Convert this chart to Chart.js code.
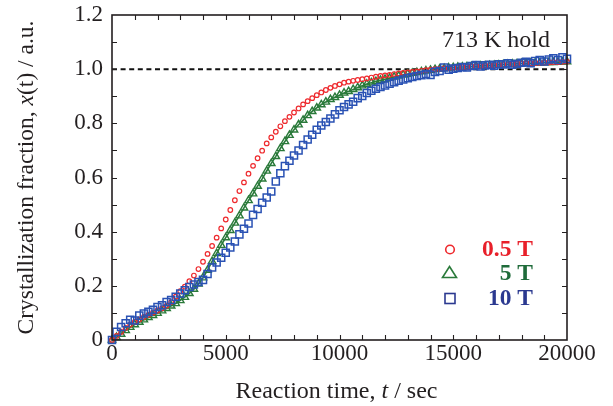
<!DOCTYPE html>
<html><head><meta charset="utf-8">
<script src="https://cdn.jsdelivr.net/npm/chart.js@4.4.1/dist/chart.umd.min.js"></script>
<style>html,body{margin:0;padding:0;background:#fff}</style>
</head><body>
<canvas id="c" width="613" height="406"></canvas>
<script>
// ---- data ----
const times = [0,200,400,600,800,1000,1200,1400,1600,1800,2000,2200,2400,2600,2800,
3000,3200,3400,3600,3800,4000,4200,4400,4600,4800,5000,5200,5400,5600,5800,
6000,6200,6400,6600,6800,7000,7200,7400,7600,7800,8000,8200,8400,8600,8800,
9000,9200,9400,9600,9800,10000,10200,10400,10600,10800,11000,11200,11400,11600,11800,
12000,12200,12400,12600,12800,13000,13200,13400,13600,13800,14000,14200,14400,14600,14800,
15000,15200,15400,15600,15800,16000,16200,16400,16600,16800,17000,17200,17400,17600,17800,
18000,18200,18400,18600,18800,19000,19200,19400,19600,19800,20000];

const field05T = [0.000,0.015,0.030,0.045,0.057,0.067,0.076,0.085,0.093,0.101,0.109,0.117,0.127,0.140,0.160,
0.180,0.197,0.217,0.238,0.262,0.289,0.318,0.347,0.378,0.412,0.445,0.480,0.516,0.550,0.582,
0.614,0.643,0.671,0.699,0.726,0.748,0.769,0.789,0.808,0.824,0.840,0.855,0.870,0.882,0.893,
0.904,0.914,0.923,0.931,0.938,0.944,0.950,0.954,0.957,0.960,0.963,0.966,0.969,0.972,0.975,
0.977,0.979,0.982,0.984,0.986,0.988,0.990,0.992,0.994,0.996,0.998,1.000,1.001,1.003,1.004,
1.005,1.006,1.007,1.008,1.009,1.010,1.011,1.012,1.013,1.014,1.015,1.016,1.017,1.018,1.019,
1.020,1.021,1.022,1.022,1.023,1.024,1.025,1.026,1.026,1.027,1.028];

const field5T = [0.000,0.010,0.022,0.035,0.047,0.057,0.066,0.075,0.083,0.091,0.099,0.108,0.117,0.126,0.135,
0.146,0.158,0.172,0.188,0.207,0.230,0.258,0.290,0.320,0.350,0.378,0.405,0.432,0.459,0.488,
0.515,0.540,0.568,0.595,0.624,0.652,0.678,0.707,0.733,0.756,0.776,0.795,0.812,0.829,0.844,
0.857,0.869,0.879,0.888,0.896,0.904,0.912,0.918,0.925,0.932,0.939,0.945,0.950,0.955,0.959,
0.963,0.967,0.971,0.975,0.979,0.982,0.985,0.988,0.991,0.994,0.996,0.999,1.001,1.003,1.005,
1.006,1.007,1.008,1.009,1.010,1.011,1.012,1.013,1.014,1.015,1.016,1.017,1.018,1.019,1.020,
1.021,1.021,1.022,1.023,1.023,1.024,1.025,1.025,1.026,1.027,1.028];

const field10T = [0.000,0.030,0.048,0.062,0.075,0.072,0.090,0.098,0.104,0.112,0.122,0.128,0.140,0.148,0.160,
0.172,0.184,0.196,0.205,0.214,0.222,0.244,0.268,0.286,0.304,0.322,0.342,0.364,0.390,0.411,
0.430,0.462,0.484,0.507,0.526,0.548,0.585,0.616,0.642,0.662,0.681,0.700,0.720,0.740,0.758,
0.776,0.792,0.805,0.818,0.833,0.848,0.860,0.870,0.880,0.893,0.901,0.912,0.920,0.928,0.934,
0.940,0.946,0.952,0.957,0.962,0.967,0.971,0.975,0.978,0.982,0.979,0.990,0.993,1.006,0.998,
1.002,1.004,1.008,1.006,1.012,1.015,1.010,1.014,1.016,1.013,1.018,1.017,1.022,1.016,1.020,
1.024,1.027,1.022,1.030,1.034,1.028,1.036,1.040,1.034,1.044,1.038];

const seriesLabels = ['0.5 T', '5 T', '10 T'];
const xTicks = [0, 5000, 10000, 15000, 20000];
const yTicks = [0, 0.2, 0.4, 0.6, 0.8, 1.0, 1.2];
const refLine = 1.0;
const noteText = '713 K hold';

// ---- styles ----
const RED = '#ee2a2e', GREEN = '#2a7a3a', BLUE = '#2a52b4';
const RED_T = '#e8202a', GREEN_T = '#1f6b3a', BLUE_T = '#2b3990';
const INK = '#231f20';
const SERIF = '"Liberation Serif","Times New Roman",serif';
Chart.defaults.font.family = SERIF;
Chart.defaults.color = INK;

function pts(vals){ return times.map((t,i)=>({x:t, y:vals[i]})); }

function drawMixed(ctx, parts, x, y, size){
  let w = 0;
  parts.forEach(p=>{ ctx.font = (p[1]?'italic ':'') + size + 'px ' + SERIF; p.w = ctx.measureText(p[0]).width; w += p.w; });
  let cx = x - w/2;
  ctx.textAlign = 'left';
  parts.forEach(p=>{ ctx.font = (p[1]?'italic ':'') + size + 'px ' + SERIF; ctx.fillText(p[0], cx, y); cx += p.w; });
}

const decor = {
  id: 'decor',
  beforeDatasetsDraw(chart){
    const {ctx, chartArea:a, scales:{y}} = chart;
    const yy = y.getPixelForValue(refLine);
    ctx.save();
    ctx.strokeStyle = '#111'; ctx.lineWidth = 2; ctx.setLineDash([5,3.6]);
    ctx.beginPath(); ctx.moveTo(a.left, yy); ctx.lineTo(a.right, yy); ctx.stroke();
    ctx.restore();
  },
  afterDatasetsDraw(chart){
    const {ctx, chartArea:a, scales:{x, y}} = chart;
    ctx.save();
    ctx.strokeStyle = INK; ctx.lineWidth = 1.6; ctx.setLineDash([]);
    ctx.strokeRect(a.left, a.top, a.right - a.left, a.bottom - a.top);
    ctx.lineWidth = 1.1;
    ctx.beginPath();
    for (let v = 1000; v < 20000; v += 1000){
      const px = Math.round(x.getPixelForValue(v)) + 0.5;
      ctx.moveTo(px, a.bottom); ctx.lineTo(px, a.bottom - 5);
      ctx.moveTo(px, a.top); ctx.lineTo(px, a.top + 5);
    }
    for (let k = 1; k < 12; k++){
      const py = Math.round(y.getPixelForValue(k/10)) + 0.5;
      ctx.moveTo(a.left, py); ctx.lineTo(a.left + 5, py);
      ctx.moveTo(a.right, py); ctx.lineTo(a.right - 5, py);
    }
    ctx.stroke();

    // axis titles
    ctx.fillStyle = INK; ctx.textBaseline = 'alphabetic';
    drawMixed(ctx, [['Reaction time, ',0],['t',1],[' / sec',0]], (a.left + a.right)/2 - 3, 398, 24);
    ctx.save();
    ctx.translate(33, (a.top + a.bottom)/2);
    ctx.rotate(-Math.PI/2);
    drawMixed(ctx, [['Crystallization fraction, ',0],['x',1],['(t) / a.u.',0]], 0, 0, 23.5);
    ctx.restore();

    // annotation
    ctx.font = '24px ' + SERIF; ctx.textAlign = 'right';
    ctx.fillText(noteText, 550, 47);

    // legend
    ctx.lineWidth = 1.6;
    ctx.strokeStyle = RED; ctx.beginPath(); ctx.arc(450, 249.5, 4.3, 0, Math.PI*2); ctx.stroke();
    ctx.strokeStyle = GREEN; ctx.beginPath(); ctx.moveTo(449.5, 266.5); ctx.lineTo(456.5, 277.5); ctx.lineTo(442.5, 277.5); ctx.closePath(); ctx.stroke();
    ctx.strokeStyle = BLUE_T; ctx.strokeRect(445, 293.5, 10, 10);
    ctx.font = 'bold 23.5px ' + SERIF; ctx.textAlign = 'right';
    ctx.fillStyle = RED_T; ctx.fillText(seriesLabels[0], 533, 256);
    ctx.fillStyle = GREEN_T; ctx.fillText(seriesLabels[1], 533, 280);
    ctx.fillStyle = BLUE_T; ctx.fillText(seriesLabels[2], 533, 304.5);
    ctx.restore();
  }
};

new Chart(document.getElementById('c'), {
  type: 'scatter',
  data: { datasets: [
    { label: seriesLabels[2], data: pts(field10T), order: 1,
      pointStyle: 'rect', pointRadius: 5, pointBorderWidth: 1.5,
      pointBorderColor: BLUE, pointBackgroundColor: 'rgba(0,0,0,0)', showLine: false },
    { label: seriesLabels[0], data: pts(field05T), order: 2,
      pointStyle: 'circle', pointRadius: 2.3, pointBorderWidth: 1.2,
      pointBorderColor: RED, pointBackgroundColor: 'rgba(0,0,0,0)', showLine: false },
    { label: seriesLabels[1], data: pts(field5T), order: 3,
      pointStyle: 'triangle', pointRadius: 4.3, pointBorderWidth: 1.4,
      pointBorderColor: GREEN, pointBackgroundColor: 'rgba(0,0,0,0)',
      showLine: true, borderColor: GREEN, borderWidth: 1.6 }
  ]},
  options: {
    responsive: false, animation: false, clip: false,
    layout: { padding: { top: 15, right: 46, left: 0, bottom: 0 } },
    plugins: { legend: { display: false }, tooltip: { enabled: false } },
    scales: {
      x: { type: 'linear', min: 0, max: 20000,
        afterBuildTicks(s){ s.ticks = xTicks.map(v=>({value:v})); },
        ticks: { font: { size: 23 }, color: INK, padding: 0, maxRotation: 0, autoSkip: false,
          callback: v => String(v) },
        grid: { display: false, drawTicks: false }, border: { display: false },
        afterFit(s){ s.height = 66; s.paddingLeft = 0; s.paddingRight = 0; } },
      y: { type: 'linear', min: 0, max: 1.2,
        afterBuildTicks(s){ s.ticks = yTicks.map(v=>({value:v})); },
        ticks: { font: { size: 23 }, color: INK, padding: 9, autoSkip: false,
          callback: v => v === 0 ? '0' : v.toFixed(1) },
        grid: { display: false, drawTicks: false }, border: { display: false },
        afterFit(s){ s.width = 112; s.paddingTop = 0; s.paddingBottom = 0; } }
    }
  },
  plugins: [decor]
});
</script>
</body></html>
